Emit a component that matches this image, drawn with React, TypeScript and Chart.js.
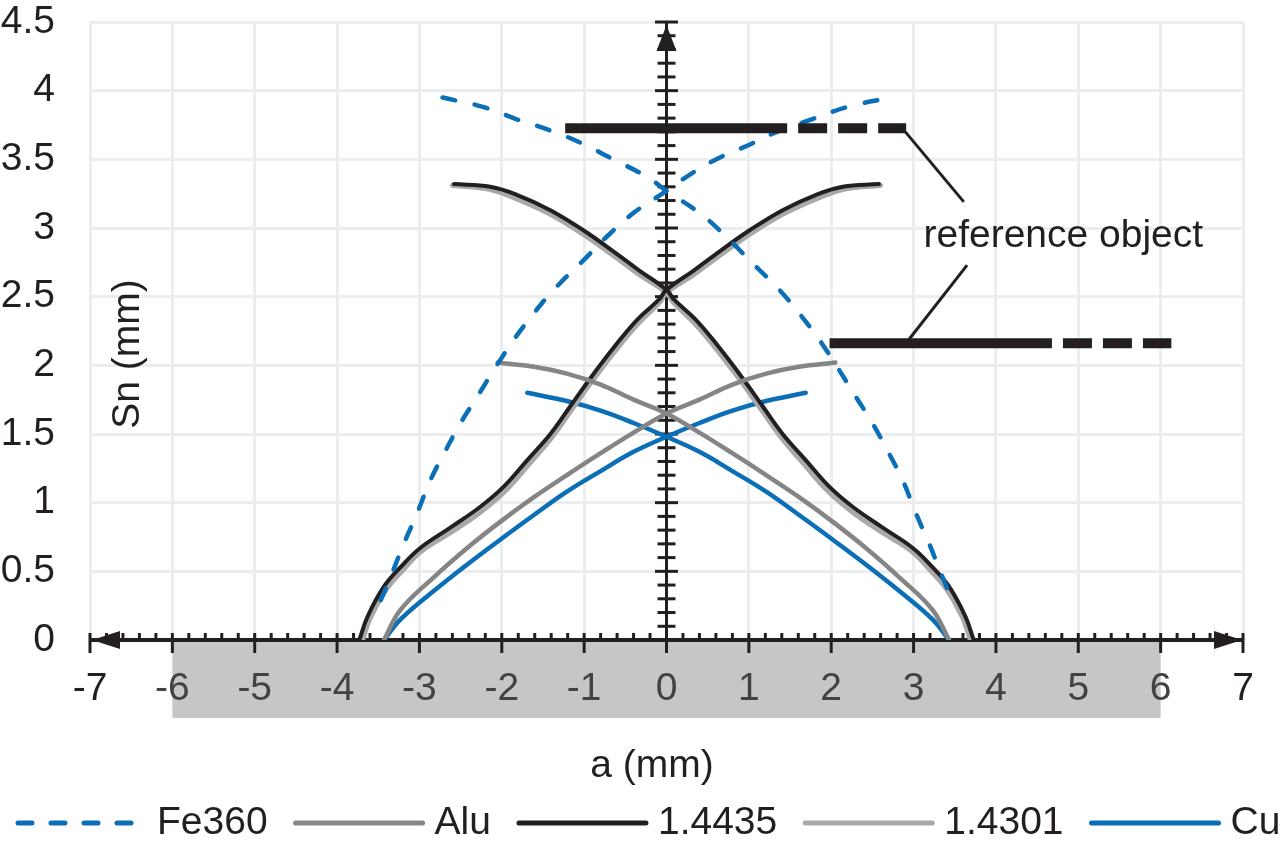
import React, { useEffect, useRef } from 'react';
import { Chart, registerables } from 'chart.js';

Chart.register(...registerables);

// ---------- data ----------
const xTickValues = [-7, -6, -5, -4, -3, -2, -1, 0, 1, 2, 3, 4, 5, 6, 7];
const xTickLabels = ['-7', '-6', '-5', '-4', '-3', '-2', '-1', '0', '1', '2', '3', '4', '5', '6', '7'];
const yTickValues = [0, 0.5, 1, 1.5, 2, 2.5, 3, 3.5, 4, 4.5];
const yTickLabels = ['0', '0.5', '1', '1.5', '2', '2.5', '3', '3.5', '4', '4.5'];

const xTitle = 'a (mm)';
const yTitle = 'Sn (mm)';
const bandRange = [-6, 6];

const fe360Rise = [[-3.47, 0.29], [-3.35, 0.46], [-3.19, 0.70], [-3.03, 0.92], [-2.87, 1.16], [-2.70, 1.36], [-2.50, 1.58], [-2.30, 1.77], [-2.06, 2.00], [-1.85, 2.19], [-1.61, 2.38], [-1.37, 2.55], [-1.00, 2.77], [-0.72, 2.94], [-0.40, 3.11], [0.00, 3.27], [0.21, 3.36], [0.57, 3.49], [1.02, 3.61], [1.34, 3.70], [1.71, 3.78], [2.19, 3.88], [2.72, 3.95]];
const fe360Fall = [[-2.72, 3.95], [-2.22, 3.88], [-1.81, 3.79], [-1.41, 3.71], [-1.04, 3.62], [-0.68, 3.51], [-0.23, 3.37], [0.00, 3.27], [0.40, 3.11], [0.72, 2.94], [1.00, 2.77], [1.37, 2.55], [1.61, 2.38], [1.85, 2.19], [2.06, 2.00], [2.30, 1.77], [2.50, 1.58], [2.70, 1.36], [2.87, 1.16], [3.03, 0.92], [3.19, 0.70], [3.35, 0.46], [3.47, 0.29]];

const aluRise = [[-3.43, 0], [-3.23, 0.22], [-2.82, 0.46], [-2.42, 0.67], [-2.02, 0.86], [-1.61, 1.04], [-1.21, 1.20], [-0.80, 1.36], [-0.40, 1.51], [0, 1.65], [0.40, 1.75], [0.80, 1.86], [1.21, 1.94], [1.61, 1.99], [2.05, 2.02]];
const aluFall = [[-2.05, 2.02], [-1.61, 1.99], [-1.21, 1.94], [-0.80, 1.86], [-0.40, 1.75], [0, 1.65], [0.40, 1.51], [0.80, 1.36], [1.21, 1.20], [1.61, 1.04], [2.02, 0.86], [2.42, 0.67], [2.82, 0.46], [3.23, 0.22], [3.43, 0]];

const s14435Rise = [[-3.73, 0], [-3.63, 0.17], [-3.43, 0.39], [-3.23, 0.53], [-2.99, 0.67], [-2.62, 0.82], [-2.26, 0.97], [-1.97, 1.12], [-1.69, 1.31], [-1.41, 1.50], [-1.17, 1.70], [-0.92, 1.91], [-0.64, 2.13], [-0.36, 2.33], [-0.09, 2.48], [0, 2.55], [0.33, 2.69], [0.60, 2.81], [1.00, 2.98], [1.41, 3.13], [1.81, 3.24], [2.14, 3.30], [2.58, 3.32]];
const s14435Fall = [[-2.58, 3.32], [-2.14, 3.30], [-1.81, 3.24], [-1.41, 3.13], [-1.00, 2.98], [-0.60, 2.81], [-0.33, 2.69], [0, 2.55], [0.09, 2.48], [0.36, 2.33], [0.64, 2.13], [0.92, 1.91], [1.17, 1.70], [1.41, 1.50], [1.69, 1.31], [1.97, 1.12], [2.26, 0.97], [2.62, 0.82], [2.99, 0.67], [3.23, 0.53], [3.43, 0.39], [3.63, 0.17], [3.73, 0]];

const s14301Rise = [[-3.69, 0], [-3.59, 0.17], [-3.40, 0.37], [-3.20, 0.51], [-2.97, 0.65], [-2.60, 0.79], [-2.24, 0.94], [-1.95, 1.09], [-1.67, 1.28], [-1.40, 1.47], [-1.16, 1.67], [-0.91, 1.88], [-0.63, 2.10], [-0.35, 2.30], [-0.08, 2.46], [0, 2.53], [0.33, 2.66], [0.60, 2.78], [1.00, 2.95], [1.41, 3.10], [1.81, 3.21], [2.14, 3.28], [2.60, 3.31]];
const s14301Fall = [[-2.60, 3.31], [-2.14, 3.28], [-1.81, 3.21], [-1.41, 3.10], [-1.00, 2.95], [-0.60, 2.78], [-0.33, 2.66], [0, 2.53], [0.08, 2.46], [0.35, 2.30], [0.63, 2.10], [0.91, 1.88], [1.16, 1.67], [1.40, 1.47], [1.67, 1.28], [1.95, 1.09], [2.24, 0.94], [2.60, 0.79], [2.97, 0.65], [3.20, 0.51], [3.40, 0.37], [3.59, 0.17], [3.69, 0]];

const cuRise = [[-3.43, 0], [-3.23, 0.15], [-2.82, 0.36], [-2.42, 0.55], [-2.02, 0.73], [-1.61, 0.91], [-1.21, 1.08], [-0.80, 1.23], [-0.40, 1.37], [0, 1.48], [0.40, 1.58], [0.80, 1.67], [1.21, 1.74], [1.69, 1.80]];
const cuFall = [[-1.69, 1.80], [-1.21, 1.74], [-0.80, 1.67], [-0.40, 1.58], [0, 1.48], [0.40, 1.37], [0.80, 1.23], [1.21, 1.08], [1.61, 0.91], [2.02, 0.73], [2.42, 0.55], [2.82, 0.36], [3.23, 0.15], [3.43, 0]];

// reference object annotation (data units)
const refTopSolid = [[-1.23, 3.726], [1.465, 3.726]];
const refTopDashed = [[1.465, 3.726], [2.91, 3.726]];
const refBottomSolid = [[1.98, 2.16], [4.68, 2.16]];
const refBottomDashed = [[4.68, 2.16], [6.13, 2.16]];
const refLeaderTop = [[2.90, 3.70], [3.61, 3.19]];
const refLeaderBottom = [[2.92, 2.17], [3.65, 2.73]];
const refLabelText = 'reference object';
const refLabelPos = [3.12, 2.86];

// ---------- styles ----------
const FONT = '"Liberation Sans", Arial, Helvetica, sans-serif';
const INK = '#231f20';
const BLUE = '#0b6fb8';

const materials = [
  { label: 'Fe360', rise: fe360Rise, fall: fe360Fall, color: BLUE, width: 4.5, dash: [13, 20], legendDash: [14, 19] },
  { label: 'Alu', rise: aluRise, fall: aluFall, color: '#858585', width: 4.5, dash: [], legendDash: [] },
  { label: '1.4435', rise: s14435Rise, fall: s14435Fall, color: INK, width: 4, dash: [], legendDash: [] },
  { label: '1.4301', rise: s14301Rise, fall: s14301Fall, color: '#a9a9aa', width: 5, dash: [], legendDash: [] },
  { label: 'Cu', rise: cuRise, fall: cuFall, color: BLUE, width: 4.5, dash: [], legendDash: [] },
];

const toXY = (arr: number[][]) => arr.map(([x, y]) => ({ x, y }));

function buildDatasets() {
  const ds: any[] = [];
  const bar = (data: number[][], dashed: boolean) => ({
    data: toXY(data),
    showLine: true,
    pointRadius: 0,
    borderColor: INK,
    borderWidth: 10,
    borderCapStyle: 'butt',
    borderDash: dashed ? [29, 11] : [],
    borderDashOffset: dashed ? 29 : 0,
    tension: 0,
    isLegend: false,
  });
  ds.push(bar(refTopSolid, false));
  ds.push(bar(refTopDashed, true));
  ds.push(bar(refBottomSolid, false));
  ds.push(bar(refBottomDashed, true));
  [refLeaderTop, refLeaderBottom].forEach((d) =>
    ds.push({ data: toXY(d), showLine: true, pointRadius: 0, borderColor: INK, borderWidth: 3, tension: 0, isLegend: false })
  );
  materials.forEach((m) => {
    [m.rise, m.fall].forEach((branch, bi) => {
      ds.push({
        label: m.label,
        data: toXY(branch),
        showLine: true,
        pointRadius: 0,
        borderColor: m.color,
        borderWidth: m.width,
        borderDash: m.dash,
        borderCapStyle: 'round',
        borderJoinStyle: 'round',
        tension: 0.4,
        isLegend: bi === 0,
        legendDash: m.legendDash,
      });
    });
  });
  return ds;
}

function line(ctx: CanvasRenderingContext2D, x1: number, y1: number, x2: number, y2: number) {
  ctx.beginPath();
  ctx.moveTo(x1, y1);
  ctx.lineTo(x2, y2);
  ctx.stroke();
}

const decorPlugin = {
  id: 'decor',
  beforeDatasetsDraw(chart: any) {
    const { ctx } = chart;
    const xs = chart.scales.x;
    const ys = chart.scales.y;
    const px = (v: number) => xs.getPixelForValue(v);
    const py = (v: number) => ys.getPixelForValue(v);
    const x0 = px(0);
    const y0 = py(0);
    ctx.save();
    // gray band below the axis
    ctx.fillStyle = '#c5c6c6';
    ctx.fillRect(px(bandRange[0]), y0, px(bandRange[1]) - px(bandRange[0]), 78);

    ctx.strokeStyle = INK;
    ctx.fillStyle = INK;
    ctx.lineCap = 'butt';
    // vertical axis
    ctx.lineWidth = 3;
    line(ctx, x0, y0, x0, py(4.5));
    for (let i = 0; i <= 45; i++) {
      const v = i / 10;
      const half = i % 5 === 0 ? 11.5 : 9;
      line(ctx, x0 - half, py(v), x0 + half, py(v));
    }
    // up arrow
    const yt = py(4.5);
    ctx.beginPath();
    ctx.moveTo(x0, yt + 3);
    ctx.lineTo(x0 + 10, yt + 29);
    ctx.lineTo(x0 - 10, yt + 29);
    ctx.closePath();
    ctx.fill();

    // horizontal axis
    ctx.lineWidth = 4;
    line(ctx, px(-7), y0, px(7), y0);
    ctx.lineWidth = 3;
    for (let i = -35; i <= 35; i++) {
      const v = i / 5;
      const major = i % 5 === 0;
      line(ctx, px(v), y0 - 7, px(v), major ? y0 + 13 : y0);
    }
    // arrows left & right
    const xl = px(-7);
    const xr = px(7);
    ctx.beginPath();
    ctx.moveTo(xl + 2, y0);
    ctx.lineTo(xl + 30, y0 - 9);
    ctx.lineTo(xl + 30, y0 + 9);
    ctx.closePath();
    ctx.fill();
    ctx.beginPath();
    ctx.moveTo(xr - 1, y0);
    ctx.lineTo(xr - 29, y0 - 9);
    ctx.lineTo(xr - 29, y0 + 9);
    ctx.closePath();
    ctx.fill();
    ctx.restore();
  },
  afterDraw(chart: any) {
    const { ctx } = chart;
    const xs = chart.scales.x;
    const ys = chart.scales.y;
    const px = (v: number) => xs.getPixelForValue(v);
    const py = (v: number) => ys.getPixelForValue(v);
    ctx.save();
    ctx.font = `39px ${FONT}`;
    // y tick labels
    ctx.fillStyle = INK;
    ctx.textAlign = 'right';
    ctx.textBaseline = 'middle';
    yTickValues.forEach((v, i) => ctx.fillText(yTickLabels[i], 55, py(v)));
    // x tick labels
    ctx.textAlign = 'center';
    xTickValues.forEach((v, i) => {
      ctx.fillStyle = Math.abs(v) <= 6 ? '#424244' : INK;
      ctx.fillText(xTickLabels[i], px(v), py(0) + 49);
    });
    // axis titles
    ctx.fillStyle = INK;
    ctx.fillText(xTitle, 652, 766);
    ctx.save();
    ctx.translate(128, 354);
    ctx.rotate(-Math.PI / 2);
    ctx.fillText(yTitle, 0, 0);
    ctx.restore();
    // annotation label
    ctx.textAlign = 'left';
    ctx.textBaseline = 'alphabetic';
    ctx.fillText(refLabelText, px(refLabelPos[0]), py(refLabelPos[1]));

    // legend
    const items = chart.data.datasets.filter((d: any) => d.isLegend);
    let x = 18;
    const ly = 823;
    ctx.textBaseline = 'middle';
    items.forEach((d: any) => {
      ctx.strokeStyle = d.borderColor;
      ctx.lineWidth = 5;
      ctx.lineCap = 'round';
      ctx.setLineDash(d.legendDash || []);
      line(ctx, x, ly, x + 127, ly);
      ctx.setLineDash([]);
      x += 127 + 12;
      ctx.fillStyle = INK;
      ctx.fillText(d.label, x, ly);
      x += ctx.measureText(d.label).width + 28;
    });
    ctx.restore();
  },
};

export default function App() {
  const ref = useRef<HTMLCanvasElement>(null);
  useEffect(() => {
    const chart = new Chart(ref.current as HTMLCanvasElement, {
      type: 'scatter',
      data: { datasets: buildDatasets() },
      options: {
        animation: false,
        responsive: false,
        maintainAspectRatio: false,
        layout: { padding: { left: 90, right: 37, top: 22, bottom: 209 } },
        plugins: { legend: { display: false }, tooltip: { enabled: false } },
        scales: {
          x: {
            type: 'linear',
            min: -7,
            max: 7,
            ticks: { display: false, stepSize: 1 },
            grid: { color: '#ecedef', lineWidth: 3, drawTicks: false },
            border: { display: false },
          },
          y: {
            type: 'linear',
            min: 0,
            max: 4.5,
            ticks: { display: false, stepSize: 0.5 },
            grid: { color: '#ecedef', lineWidth: 3, drawTicks: false },
            border: { display: false },
          },
        },
      } as any,
      plugins: [decorPlugin],
    });
    return () => chart.destroy();
  }, []);
  return (
    <div style={{ position: 'absolute', left: 0, top: 0, width: 1280, height: 849, background: '#fff' }}>
      <canvas ref={ref} width={1280} height={849} style={{ display: 'block', width: 1280, height: 849 }} />
    </div>
  );
}
